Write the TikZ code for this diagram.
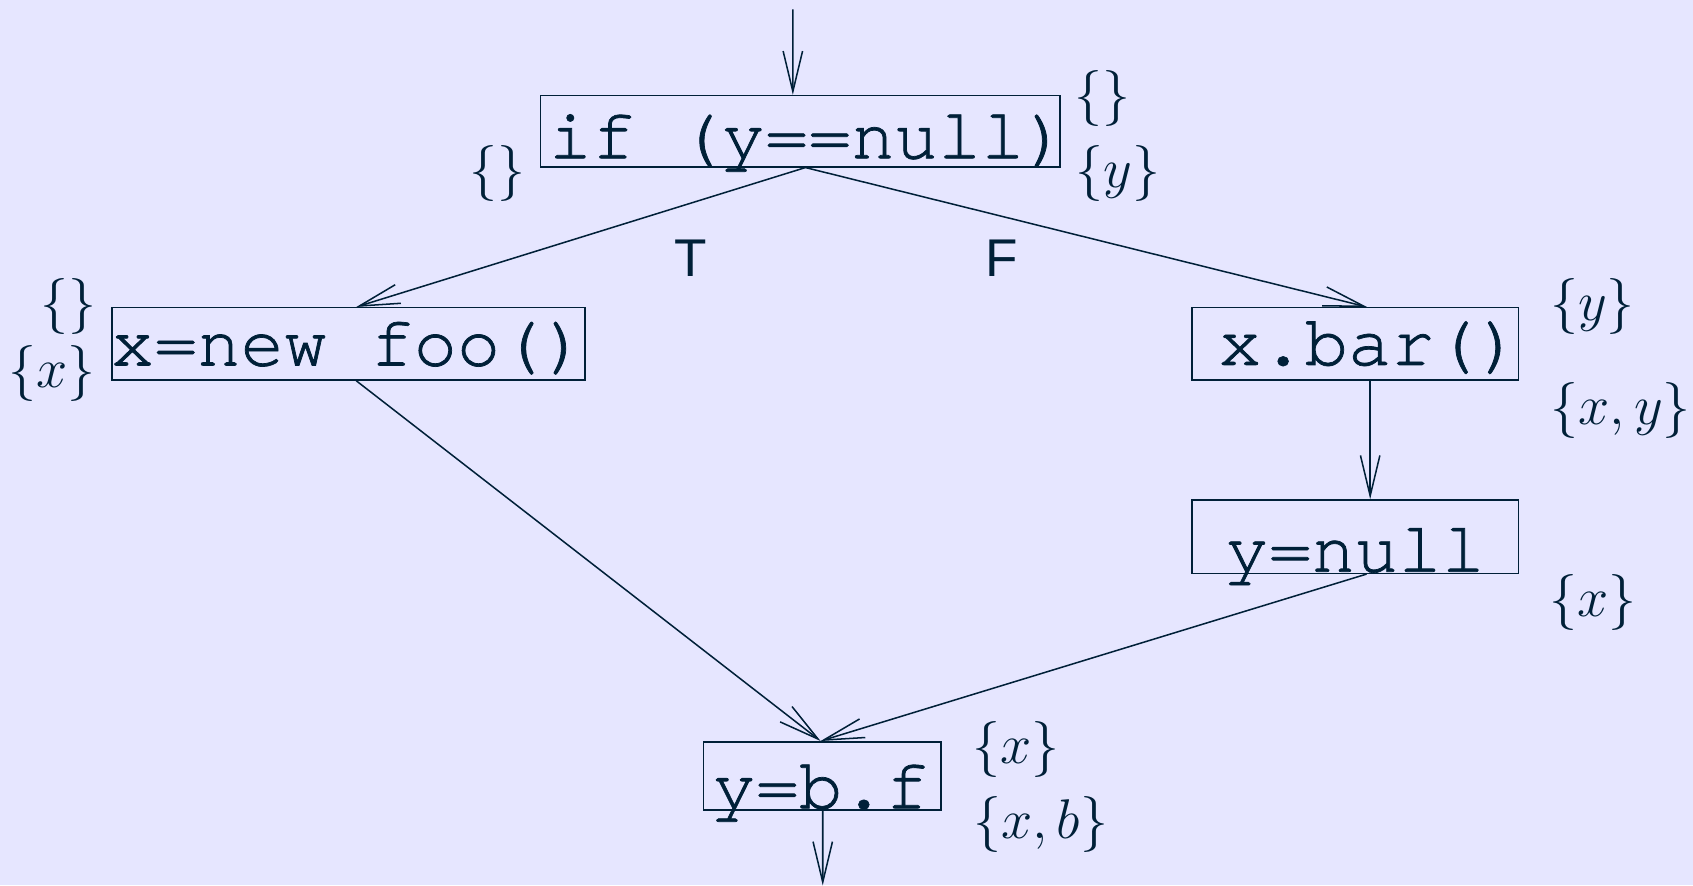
\RequirePackage{fix-cm}
\documentclass[tikz,border=0pt]{standalone}
\usepackage{amsmath}
\usepackage{fontspec}
\usepackage{tikz}
\usepackage{xcolor}
\usetikzlibrary{arrows.meta}

\newfontfamily\codefont[FakeBold=1]{texgyrecursor-regular.otf}
\newfontfamily\branchfont{Liberation Sans}
\definecolor{ink}{RGB}{0,32,56}
\definecolor{paper}{RGB}{230,230,255}

\tikzset{
  stmt/.style={draw=ink, line width=0.8pt, inner sep=0pt},
  code/.style={font=\codefont\fontsize{38}{45}\selectfont, text=ink, inner sep=0pt, anchor=base},
  fact/.style={font=\fontsize{29.5}{36}\selectfont, text=ink, inner sep=0pt},
  branch/.style={font=\branchfont\fontsize{28}{34}\selectfont, text=ink, inner sep=0pt, anchor=base},
  flow/.style={draw=ink, line width=0.8pt, -{Straight Barb[length=0.75cm, width=0.36cm]}}
}

\begin{document}
\begin{tikzpicture}[x=0.02cm, y=-0.02cm]
        \fill[paper] (0,0) rectangle (1568,820);
        \useasboundingbox (0,0) rectangle (1568,820);

        % statement boxes
        \node[stmt, minimum width=9.62cm, minimum height=1.32cm] (ifbox) at (741.2,121.5) {};
        \node[stmt, minimum width=8.77cm, minimum height=1.34cm] (foobox) at (322.8,318.5) {};
        \node[stmt, minimum width=6.05cm, minimum height=1.34cm] (barbox) at (1255.2,318.5) {};
        \node[stmt, minimum width=6.05cm, minimum height=1.36cm] (nullbox) at (1255.2,497) {};
        \node[stmt, minimum width=4.40cm, minimum height=1.26cm] (bfbox) at (761.5,718.5) {};

        \node[code] (iftext) at (748.5,146.6) {if (y==null)};
        \node[code] (footext) at (323,338.5) {x=new foo()};
        \node[code] (bartext) at (1268.5,338) {x.bar()};
        \node[code] (nulltext) at (1255,529.5) {y=null};
        \node[code] (bftext) at (760,748.6) {y=b.f};

        \node[branch] (tlabel) at (639.5,256.2) {T};
        \node[branch] (flabel) at (928,256.2) {F};

        % sets before and after each statement
        \node[fact] (ifin) at (1021.3,91.7) {$\{\}$};
        \node[fact] (ifoutf) at (1035.2,160.5) {$\{y\}$};
        \node[fact] (ifoutt) at (460.7,160.5) {$\{\}$};
        \node[fact] (fooin) at (63,284) {$\{\}$};
        \node[fact] (fooout) at (47.8,345.6) {$\{x\}$};
        \node[fact] (barin) at (1475,284) {$\{y\}$};
        \node[fact] (barout) at (1501,380) {$\{x,y\}$};
        \node[fact] (nullout) at (1475.5,558) {$\{x\}$};
        \node[fact] (bfin) at (941,694.6) {$\{x\}$};
        \node[fact] (bfout) at (964,764) {$\{x,b\}$};

        \coordinate (entry) at (734.3,8.6);
        \coordinate (exit) at (762,820);

        \draw[flow] (entry) -- ([xshift=-0.138cm]ifbox.north);
        \draw[flow] ([xshift=0.096cm]ifbox.south) -- ([xshift=0.144cm]foobox.north);
        \draw[flow] ([xshift=0.096cm]ifbox.south) -- ([xshift=0.216cm]barbox.north);
        \draw[flow] ([xshift=0.276cm]barbox.south) -- ([xshift=0.276cm]nullbox.north);
        \draw[flow] ([xshift=0.144cm]foobox.south) -- ([xshift=-0.03cm]bfbox.north);
        \draw[flow] ([xshift=0.21cm]nullbox.south) -- ([xshift=-0.03cm]bfbox.north);
        \draw[flow] ([xshift=0.01cm]bfbox.south) -- (exit);
    \end{tikzpicture}
\end{document}
